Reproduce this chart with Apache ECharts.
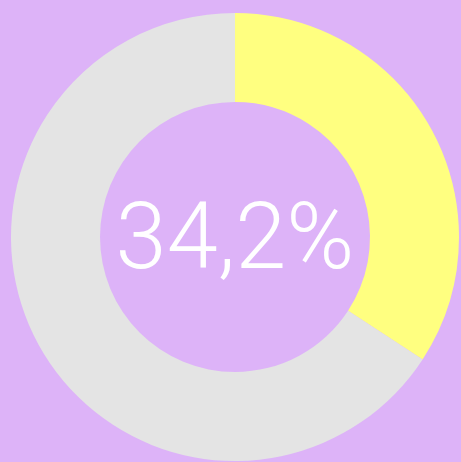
<!DOCTYPE html>
<html>
<head>
<meta charset="utf-8">
<script src="https://cdn.jsdelivr.net/npm/echarts@6/dist/echarts.min.js"></script>
<style>
  html, body { margin: 0; padding: 0; background: #ddb3f8; }
  #chart { width: 461px; height: 462px; }
</style>
</head>
<body>
<div id="chart"></div>
<script>
// 数据
const categories = ['完成', '剩余']
const values = [34.2, 65.8]
const centerLabel = '34,2%'

const colors = ['#ffff80', '#e4e4e4']

const chart = echarts.init(document.getElementById('chart'))
const option = {
  backgroundColor: '#ddb3f8',
  animation: false,
  graphic: [
    {
      type: 'text',
      x: 235,
      y: 199,
      style: {
        text: centerLabel,
        fill: '#ffffff',
        font: '300 92px Roboto',
        textAlign: 'center'
      }
    }
  ],
  series: [
    {
      type: 'pie',
      center: [235, 237],
      radius: [135, 224],
      startAngle: 90,
      clockwise: true,
      silent: true,
      label: { show: false },
      labelLine: { show: false },
      data: categories.map((name, i) => ({
        name,
        value: values[i],
        itemStyle: { color: colors[i] }
      }))
    }
  ]
}
chart.setOption(option)
</script>
</body>
</html>
